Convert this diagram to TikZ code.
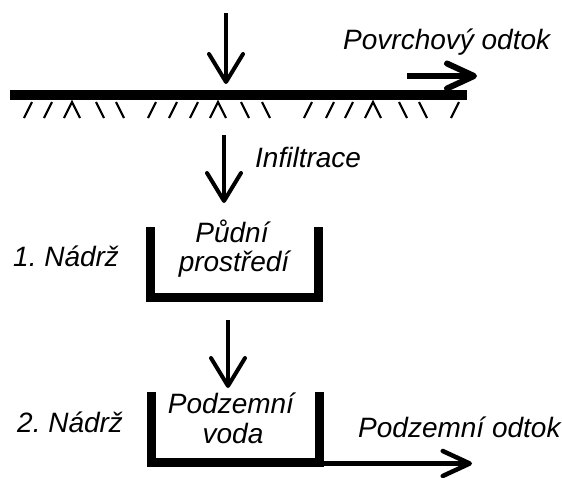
\documentclass[tikz,border=0pt]{standalone}
\usepackage{fontspec}
\setmainfont{Liberation Sans}
\usetikzlibrary{arrows.meta, positioning, calc}
\frenchspacing

\tikzset{
	tankwall/.style={line width=9pt, line join=miter},
	flow/.style={line width=4pt, -{Straight Barb[length=28pt, width=34pt, round]}},
	outflow/.style={-{Straight Barb[length=27pt, width=25pt, round]}},
	lbl/.style={inner sep=0pt, font=\fontsize{28}{30}\selectfont\itshape},
	hatch/.style={line width=2.2pt}
}

\begin{document}
\begin{tikzpicture}[x=1pt, y=-1pt]
	\useasboundingbox (0,0) rectangle (562,477);
	
	%//ground surface
	\coordinate (gl) at (10,95);
	\coordinate (gr) at (467,95);
	\draw[line width=10pt] (gl) -- (gr);
	
	% hatching below the surface
	\foreach \x in {28,48,152,173,194,308,330,349,455}
	\draw[hatch] (\x-4, 118) -- (\x+4, 102);
	\foreach \x in {100,120,245,266,403,423}
	\draw[hatch] (\x-4, 102) -- (\x+4, 118);
	\foreach \x in {72,218,373}
	\draw[hatch] (\x-8, 118) -- (\x, 102) -- (\x+8, 118);
	
	%//precipitation and surface runoff
	\coordinate (rain) at (226,13);
	\coordinate (surf) at (226,84);
	\draw[flow] (rain) -- (surf);
	
	\coordinate (sof-a) at (407,76);
	\coordinate (sof-b) at (477,76);
	\draw[flow, line width=6pt, outflow] (sof-a) -- (sof-b);
	\node[lbl, anchor=base west] (povrch) at (343,49) {Povrchový odtok};
	
	%//infiltration
	\coordinate (inf-a) at (224,135);
	\coordinate (inf-b) at (224,203);
	\draw[flow] (inf-a) -- (inf-b);
	\node[lbl, anchor=base west] (infil) at (255,167) {Infiltrace};
	
	%//1. tank
	\draw[tankwall] (150.5,227) -- (150.5,297.5) -- (318.5,297.5) -- (318.5,227);
	\node[lbl, anchor=base] (pudni) at (232,242) {Půdní};
	\node[lbl, anchor=base] (prostredi) at (234,271) {prostředí};
	\node[lbl, anchor=base west] (nadrz1) at (13,266) {1. Nádrž};
	
	%//percolation
	\coordinate (per-a) at (228,320);
	\coordinate (per-b) at (228,388);
	\draw[flow] (per-a) -- (per-b);
	
	%//2. tank
	\draw[tankwall] (151,392) -- (151,462.5) -- (319,462.5) -- (319,392);
	\node[lbl, anchor=base] (podzemni) at (231,413) {Podzemní};
	\node[lbl, anchor=base] (voda) at (233,443) {voda};
	\node[lbl, anchor=base west] (nadrz2) at (17,432) {2. Nádrž};
	
	\coordinate (gof-a) at (320,463.5);
	\coordinate (gof-b) at (472,463.5);
	\draw[flow, line width=4.5pt, outflow] (gof-a) -- (gof-b);
	\node[lbl, anchor=base west] (pododtok) at (358,437) {Podzemní odtok};
	
\end{tikzpicture}
\end{document}
